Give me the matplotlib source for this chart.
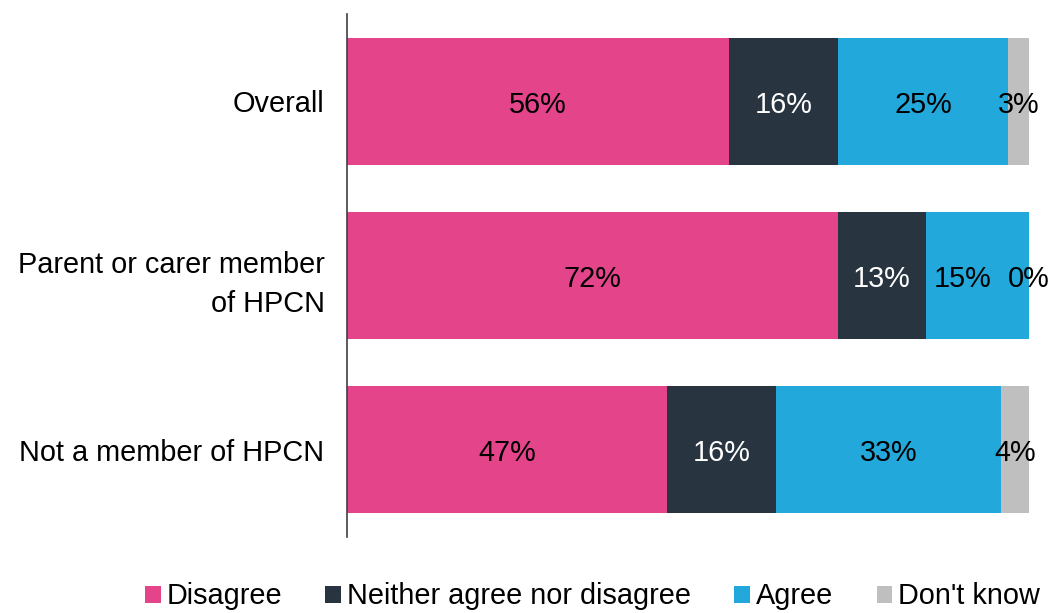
import matplotlib.pyplot as plt
import numpy as np

plt.rcParams['font.family'] = ['Liberation Sans', 'DejaVu Sans']

groups = ["Overall", "Parent or carer member\nof HPCN", "Not a member of HPCN"]
series = ["Disagree", "Neither agree nor disagree", "Agree", "Don't know"]
disagree = [56, 72, 47]
neither = [16, 13, 16]
agree = [25, 15, 33]
dont_know = [3, 0, 4]

colors = ["#E4448A", "#283540", "#22A8DB", "#BFBFBF"]
text_colors = ["black", "white", "black", "black"]

fig = plt.figure(figsize=(10.54, 6.13), dpi=100)
ax = fig.add_axes([0.329, 0.124, 0.647, 0.853])

all_vals = [disagree, neither, agree, dont_know]
y = np.arange(len(groups))
left = np.zeros(len(groups))
for k, (name, vals, c, tc) in enumerate(zip(series, all_vals, colors, text_colors)):
    vals = np.array(vals, dtype=float)
    ax.barh(y, vals, left=left, height=0.73, color=c, label=name)
    for i, v in enumerate(vals):
        xpos = left[i] + v / 2
        # nudge a label left when the next segment is empty, so labels don't touch
        if k + 1 < len(all_vals) and all_vals[k + 1][i] == 0:
            xpos -= 2.2
        ax.text(xpos, y[i] + 0.02, "{:.0f}%".format(v), ha='center', va='center',
                fontsize=20.8, color=tc)
    left += vals

ax.set_xlim(0, 100)
ax.set_ylim(2.5, -0.5)
ax.set_yticks(y)
ax.set_yticklabels(groups, fontsize=20.8, linespacing=1.5)
ax.tick_params(axis='y', length=0, pad=16)
ax.set_xticks([])
for s in ['top', 'right', 'bottom']:
    ax.spines[s].set_visible(False)
ax.spines['left'].set_color('#404040')
ax.spines['left'].set_linewidth(1.2)

fig.legend(loc='center', bbox_to_anchor=(0.562, 0.027), ncol=4, frameon=False,
           fontsize=20.8, handlelength=0.55, handleheight=0.55, handletextpad=0.2,
           columnspacing=1.5)

fig.savefig("out.png", dpi=100)
